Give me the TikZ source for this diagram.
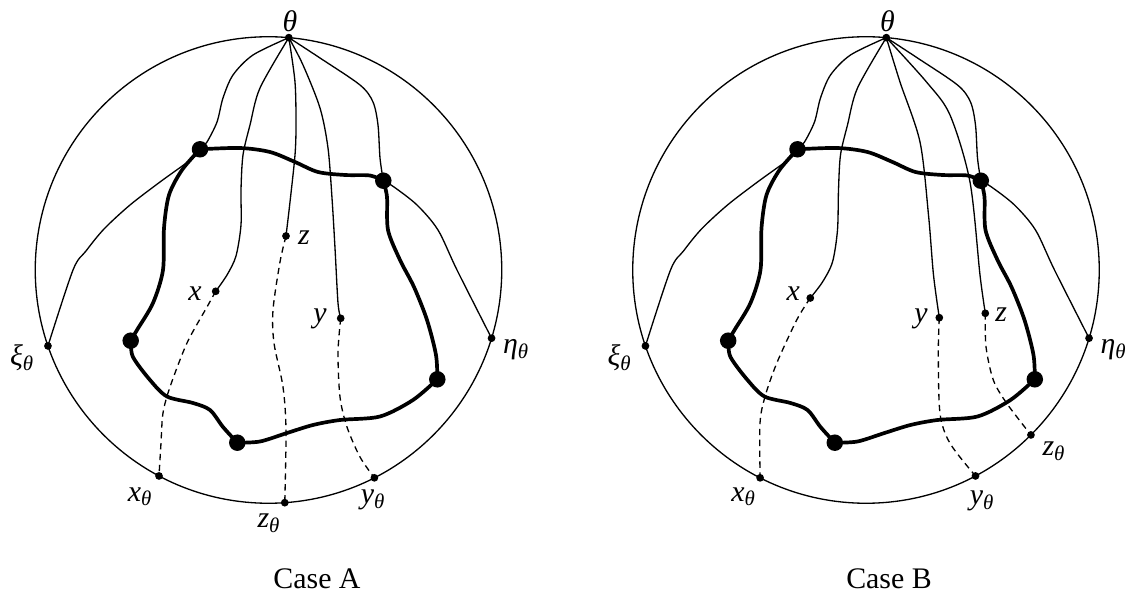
\documentclass[tikz,border=0pt]{standalone}
\usepackage{fontspec}
\setmainfont{Liberation Serif}

\begin{document}
\begin{tikzpicture}[
    x=0.02cm, y=-0.02cm,
    disk/.style={draw, circle, line width=0.75pt, inner sep=0pt, outer sep=0pt, minimum size=9.332cm},
    smalldot/.style={circle, fill, inner sep=0pt, minimum size=0.155cm},
    bigdot/.style={circle, fill, inner sep=0pt, minimum size=0.33cm},
    geo/.style={line width=0.75pt},
    loopline/.style={line width=2.1pt},
    proj/.style={line width=0.75pt, dash pattern=on 3.6pt off 2.6pt},
    lab/.style={inner sep=0pt, font=\fontsize{17}{20}\selectfont\itshape},
    casetext/.style={inner sep=0pt, anchor=base, font=\fontsize{17}{20}\selectfont}
  ]

  \useasboundingbox (0,0) rectangle (1127,594);

  % ── Case A ──
  \node[disk] (diskA) at (268.5,270) {};

  % points on the boundary
  \node[smalldot] (thetaA) at (diskA.85.5) {};
  \node[smalldot] (xiA) at (diskA.199.3) {};
  \node[smalldot] (etaA) at (diskA.-17.5) {};
  \node[smalldot] (xtA) at (diskA.242.6) {};
  \node[smalldot] (ytA) at (diskA.-63.9) {};
  \node[smalldot] (ztA) at (diskA.-86.2) {};

  % inner points
  \node[smalldot] (xA) at (215.7,291.3) {};
  \node[smalldot] (yA) at (340.7,318.3) {};
  \node[smalldot] (zA) at (286,236) {};

  % corners of the loop
  \node[bigdot] (p1A) at (200,149.3) {};
  \node[bigdot] (p2A) at (383.3,180.7) {};
  \node[bigdot] (p3A) at (130.7,340.7) {};
  \node[bigdot] (p4A) at (437.3,379.3) {};
  \node[bigdot] (p5A) at (237.3,442.7) {};

  % loop
  \draw[loopline] plot[smooth] coordinates {(p1A.center) (240,148) (270,152) (295,162) (318,172) (345,175) (370,175.5) (p2A.center)};
  \draw[loopline] plot[smooth] coordinates {(p2A.center) (387,197) (388,230) (400,260) (414,287) (427,320) (436,355) (p4A.center)};
  \draw[loopline] plot[smooth] coordinates {(p4A.center) (413,400) (380,416.5) (340,420) (313,425) (287,433) (260,441.5) (p5A.center)};
  \draw[loopline] plot[smooth] coordinates {(p5A.center) (223,427) (210,410) (193,403) (167,396.5) (150,380) (133,357) (p3A.center)};
  \draw[loopline] plot[smooth] coordinates {(p3A.center) (137,330) (153,303) (163,270) (164,228) (169,195) (182,170) (p1A.center)};

  % curves from theta
  \draw[geo] plot[smooth] coordinates {(thetaA.center) (253,55) (233,75) (223,98) (217,122) (207,142) (p1A.center)};
  \draw[geo] plot[smooth] coordinates {(p1A.center) (193,158) (160,182) (130,205) (104,229) (86,251) (73,270) (xiA.center)};
  \draw[geo] plot[smooth] coordinates {(thetaA.center) (260,88) (250,125) (243,155) (241,190) (241,225) (236,256) (227,275) (xA.center)};
  \draw[geo] plot[smooth] coordinates {(thetaA.center) (295,82) (296,125) (295,155) (290,202) (zA.center)};
  \draw[geo] plot[smooth] coordinates {(thetaA.center) (303,65) (320,108) (328,148) (332,198) (335,248) (338,303) (yA.center)};
  \draw[geo] plot[smooth] coordinates {(thetaA.center) (320,58) (360,85) (373,102) (378,125) (380,158) (p2A.center)};
  \draw[geo] plot[smooth] coordinates {(p2A.center) (394,187) (417,205) (438,230) (457,270) (etaA.center)};

  % dashed continuations
  \draw[proj] plot[smooth] coordinates {(xA.center) (207,307) (187,343) (170,387) (163,413) (161,443) (xtA.center)};
  \draw[proj] plot[smooth] coordinates {(zA.center) (280,262) (273,310) (274,343) (283,387) (286,430) (ztA.center)};
  \draw[proj] plot[smooth] coordinates {(yA.center) (338,353) (340,397) (347,427) (360,457) (ytA.center)};

  % labels
  \node[lab] (thetaAl) at (290,21.7) {θ};
  \node[lab] (xiAl) at (22,358) {ξ\textsubscript{θ}};
  \node[lab] (etaAl) at (516,350) {η\textsubscript{θ}};
  \node[lab] (xtAl) at (140,496.7) {x\textsubscript{θ}};
  \node[lab] (ytAl) at (373,500) {y\textsubscript{θ}};
  \node[lab] (ztAl) at (269,523) {z\textsubscript{θ}};
  \node[lab] (xAl) at (195,293.3) {x};
  \node[lab] (yAl) at (320,319) {y};
  \node[lab] (zAl) at (304,237.5) {z};
  \node[casetext] (caseA) at (317,588.3) {Case A};

  % ── Case B ──
  \begin{scope}[shift={(597.5,0)}]
  \node[disk] (diskB) at (268.5,270) {};

  \node[smalldot] (thetaB) at (diskB.85.5) {};
  \node[smalldot] (xiB) at (diskB.199.3) {};
  \node[smalldot] (etaB) at (diskB.-17.5) {};
  \node[smalldot] (xtB) at (diskB.243.3) {};
  \node[smalldot] (ytB) at (diskB.-62.9) {};
  \node[smalldot] (ztB) at (diskB.-45.3) {};

  \node[smalldot] (xB) at (212.8,298) {};
  \node[smalldot] (yB) at (341.8,317.7) {};
  \node[smalldot] (zB) at (387.8,313.3) {};

  \node[bigdot] (p1B) at (200,149.3) {};
  \node[bigdot] (p2B) at (383.3,180.7) {};
  \node[bigdot] (p3B) at (130.7,340.7) {};
  \node[bigdot] (p4B) at (437.3,379.3) {};
  \node[bigdot] (p5B) at (237.3,442.7) {};

  \draw[loopline] plot[smooth] coordinates {(p1B.center) (240,148) (270,152) (295,162) (318,172) (345,175) (370,175.5) (p2B.center)};
  \draw[loopline] plot[smooth] coordinates {(p2B.center) (387,197) (388,230) (400,260) (414,287) (427,320) (436,355) (p4B.center)};
  \draw[loopline] plot[smooth] coordinates {(p4B.center) (413,400) (380,416.5) (340,420) (313,425) (287,433) (260,441.5) (p5B.center)};
  \draw[loopline] plot[smooth] coordinates {(p5B.center) (223,427) (210,410) (193,403) (167,396.5) (150,380) (133,357) (p3B.center)};
  \draw[loopline] plot[smooth] coordinates {(p3B.center) (137,330) (153,303) (163,270) (164,228) (169,195) (182,170) (p1B.center)};

  \draw[geo] plot[smooth] coordinates {(thetaB.center) (253,55) (233,75) (223,98) (217,122) (207,142) (p1B.center)};
  \draw[geo] plot[smooth] coordinates {(p1B.center) (193,158) (160,182) (130,205) (104,229) (86,251) (73,270) (xiB.center)};
  \draw[geo] plot[smooth] coordinates {(thetaB.center) (260,88) (250,125) (243,155) (241,190) (240,230) (235,262) (225,282) (xB.center)};
  \draw[geo] plot[smooth] coordinates {(thetaB.center) (302.5,82) (322.5,142) (331,215) (336,275) (yB.center)};
  \draw[geo] plot[smooth] coordinates {(thetaB.center) (329,82) (352.5,115) (372.5,182) (382.5,275) (zB.center)};
  \draw[geo] plot[smooth] coordinates {(thetaB.center) (320,58) (360,85) (373,102) (378,125) (380,158) (p2B.center)};
  \draw[geo] plot[smooth] coordinates {(p2B.center) (394,187) (417,205) (438,230) (457,270) (etaB.center)};

  \draw[proj] plot[smooth] coordinates {(xB.center) (199.2,320) (179.2,363.3) (167.5,396.7) (162.5,423.3) (xtB.center)};
  \draw[proj] plot[smooth] coordinates {(yB.center) (340.8,353.3) (342.5,413.3) (352.5,443.3) (ytB.center)};
  \draw[proj] plot[smooth] coordinates {(zB.center) (388.5,346.7) (395.8,380) (409.2,403.3) (ztB.center)};

  \node[lab] (thetaBl) at (290,21.7) {θ};
  \node[lab] (xiBl) at (22,358) {ξ\textsubscript{θ}};
  \node[lab] (etaBl) at (516,350) {η\textsubscript{θ}};
  \node[lab] (xtBl) at (146,496.7) {x\textsubscript{θ}};
  \node[lab] (ytBl) at (384.5,501) {y\textsubscript{θ}};
  \node[lab] (ztBl) at (456.5,451) {z\textsubscript{θ}};
  \node[lab] (xBl) at (195.8,293.3) {x};
  \node[lab] (yBl) at (323.5,319) {y};
  \node[lab] (zBl) at (403.8,315) {z};
  \node[casetext] (caseB) at (291.5,588.3) {Case B};
  \end{scope}

\end{tikzpicture}
\end{document}
